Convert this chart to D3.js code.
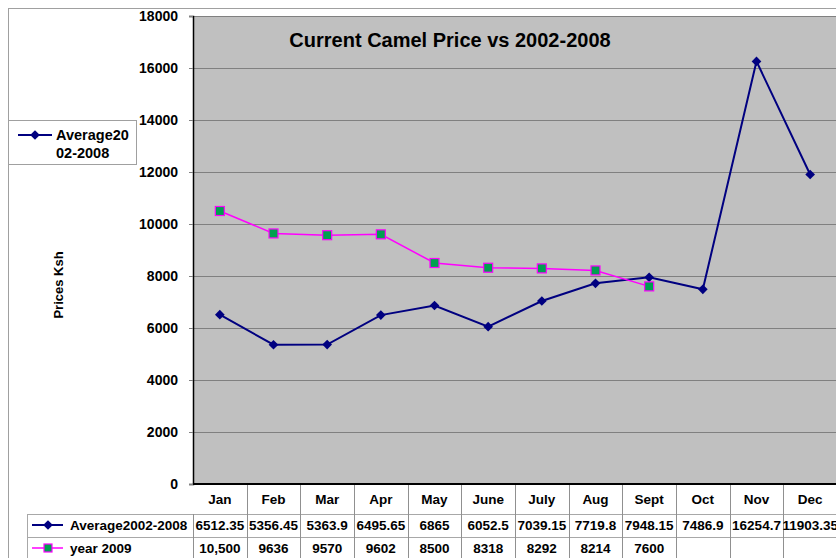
<!DOCTYPE html>
<html>
<head>
<meta charset="utf-8">
<script src="https://cdn.jsdelivr.net/npm/d3@7"></script>
<style>
  body { margin: 0; background: #fff; }
  text { font-family: "Liberation Sans", Arial, sans-serif; font-weight: bold; }
</style>
</head>
<body>
<svg id="chart" width="836" height="558"></svg>
<script>
// chart data
const months = ['Jan', 'Feb', 'Mar', 'Apr', 'May', 'June', 'July', 'Aug', 'Sept', 'Oct', 'Nov', 'Dec'];
const average = [6512.35, 5356.45, 5363.9, 6495.65, 6865, 6052.5, 7039.15, 7719.8, 7948.15, 7486.9, 16254.7, 11903.35];
const averageLabels = ['6512.35', '5356.45', '5363.9', '6495.65', '6865', '6052.5', '7039.15', '7719.8', '7948.15', '7486.9', '16254.7', '11903.35'];
const year2009 = [10500, 9636, 9570, 9602, 8500, 8318, 8292, 8214, 7600];
const year2009Labels = ['10,500', '9636', '9570', '9602', '8500', '8318', '8292', '8214', '7600'];
const yTicks = [0, 2000, 4000, 6000, 8000, 10000, 12000, 14000, 16000, 18000];

const svg = d3.select('#chart');

// outer chart border
svg.append('rect')
    .attr('x', 8.5).attr('y', 8.5)
    .attr('width', 840).attr('height', 560)
    .attr('fill', '#fff').attr('stroke', '#a0a0a0');

const plot = { left: 193, right: 837, top: 16, bottom: 484 };

const x = d3.scaleBand().domain(months).range([plot.left, plot.right]);
const y = d3.scaleLinear().domain([0, 18000]).range([plot.bottom, plot.top]);

// plot background
svg.append('rect')
    .attr('x', plot.left).attr('y', plot.top)
    .attr('width', plot.right - plot.left).attr('height', plot.bottom - plot.top)
    .attr('fill', '#c0c0c0');

// gridlines
svg.append('g')
    .selectAll('line')
    .data(yTicks.filter(d => d > 0))
    .join('line')
    .attr('x1', plot.left).attr('x2', plot.right)
    .attr('y1', d => y(d) + 0.5).attr('y2', d => y(d) + 0.5)
    .attr('stroke', '#808080');

// y axis
const yAxis = svg.append('g')
    .attr('transform', `translate(${plot.left},0)`)
    .call(d3.axisLeft(y).tickValues(yTicks).tickSize(4).tickPadding(11).tickFormat(d3.format('d')));
yAxis.select('.domain').attr('stroke', '#000').attr('stroke-width', 1.5);
yAxis.selectAll('.tick line').attr('stroke', '#808080');
yAxis.selectAll('.tick text')
    .attr('font-size', 14).attr('font-weight', 'bold')
    .attr('font-family', '"Liberation Sans", Arial, sans-serif').attr('fill', '#000');

// bottom axis line
svg.append('line')
    .attr('x1', plot.left).attr('x2', plot.right)
    .attr('y1', plot.bottom).attr('y2', plot.bottom)
    .attr('stroke', '#000').attr('stroke-width', 2);

// axis title
svg.append('text')
    .attr('transform', 'translate(63,285) rotate(-90)')
    .attr('text-anchor', 'middle')
    .attr('font-size', 13)
    .text('Prices Ksh');

// chart title
svg.append('text')
    .attr('x', 450).attr('y', 47)
    .attr('text-anchor', 'middle')
    .attr('font-size', 20)
    .text('Current Camel Price vs 2002-2008');

const cx = d => x(d) + x.bandwidth() / 2;
const diamond = d3.symbol().type(d3.symbolDiamond2).size(60);

// average series
svg.append('path')
    .datum(average)
    .attr('fill', 'none')
    .attr('stroke', '#000080')
    .attr('stroke-width', 2)
    .attr('d', d3.line().x((d, i) => cx(months[i])).y(d => y(d)));

svg.append('g')
    .selectAll('path')
    .data(average)
    .join('path')
    .attr('transform', (d, i) => `translate(${cx(months[i])},${y(d)})`)
    .attr('d', diamond)
    .attr('fill', '#000080');

// 2009 series
svg.append('path')
    .datum(year2009)
    .attr('fill', 'none')
    .attr('stroke', '#ff00ff')
    .attr('stroke-width', 1.5)
    .attr('d', d3.line().x((d, i) => cx(months[i])).y(d => y(d)));

svg.append('g')
    .selectAll('rect')
    .data(year2009)
    .join('rect')
    .attr('x', (d, i) => cx(months[i]) - 4.5)
    .attr('y', d => y(d) - 4.5)
    .attr('width', 9).attr('height', 9)
    .attr('fill', '#00a050')
    .attr('stroke', '#ff00ff')
    .attr('stroke-width', 1.2);

// data table
const rowY = [484, 514, 537, 560];
const table = svg.append('g');

table.selectAll('line.h')
    .data(rowY.slice(1, 3))
    .join('line')
    .attr('x1', 27).attr('x2', plot.right)
    .attr('y1', d => d + 0.5).attr('y2', d => d + 0.5)
    .attr('stroke', '#a8a8a8');

table.append('line')
    .attr('x1', 27.5).attr('x2', 27.5)
    .attr('y1', 514).attr('y2', 560)
    .attr('stroke', '#a8a8a8');

table.selectAll('line.v')
    .data(months)
    .join('line')
    .attr('x1', d => Math.round(x(d)) + 0.5).attr('x2', d => Math.round(x(d)) + 0.5)
    .attr('y1', (d, i) => i === 0 ? 514 : 485).attr('y2', 560)
    .attr('stroke', '#909090');

table.selectAll('text.month')
    .data(months)
    .join('text')
    .attr('x', cx).attr('y', 504)
    .attr('text-anchor', 'middle')
    .attr('font-size', 13.5)
    .text(d => d);

table.selectAll('text.avg')
    .data(averageLabels)
    .join('text')
    .attr('x', (d, i) => cx(months[i])).attr('y', 530)
    .attr('text-anchor', 'middle')
    .attr('font-size', 13.5)
    .text(d => d);

table.selectAll('text.y09')
    .data(year2009Labels)
    .join('text')
    .attr('x', (d, i) => cx(months[i])).attr('y', 553)
    .attr('text-anchor', 'middle')
    .attr('font-size', 13.5)
    .text(d => d);

// table legend keys
table.append('line')
    .attr('x1', 32).attr('x2', 63).attr('y1', 525).attr('y2', 525)
    .attr('stroke', '#000080').attr('stroke-width', 2);
table.append('path')
    .attr('transform', 'translate(48,525)')
    .attr('d', diamond).attr('fill', '#000080');
table.append('text')
    .attr('x', 70).attr('y', 530).attr('font-size', 13.5)
    .text('Average2002-2008');

table.append('line')
    .attr('x1', 32).attr('x2', 63).attr('y1', 548).attr('y2', 548)
    .attr('stroke', '#ff00ff').attr('stroke-width', 1.5);
table.append('rect')
    .attr('x', 44).attr('y', 544).attr('width', 8).attr('height', 8)
    .attr('fill', '#00a050').attr('stroke', '#ff00ff').attr('stroke-width', 1.2);
table.append('text')
    .attr('x', 70).attr('y', 553).attr('font-size', 13.5)
    .text('year 2009');

// legend box
const legend = svg.append('g');
legend.append('rect')
    .attr('x', 8.5).attr('y', 120.5).attr('width', 128).attr('height', 44)
    .attr('fill', '#fff').attr('stroke', '#a0a0a0');
legend.append('line')
    .attr('x1', 18).attr('x2', 52).attr('y1', 135).attr('y2', 135)
    .attr('stroke', '#000080').attr('stroke-width', 2);
legend.append('path')
    .attr('transform', 'translate(35,135)')
    .attr('d', diamond).attr('fill', '#000080');
legend.append('text')
    .attr('x', 56).attr('y', 140).attr('font-size', 14.5)
    .text('Average20');
legend.append('text')
    .attr('x', 56).attr('y', 158).attr('font-size', 14.5)
    .text('02-2008');
</script>
</body>
</html>
